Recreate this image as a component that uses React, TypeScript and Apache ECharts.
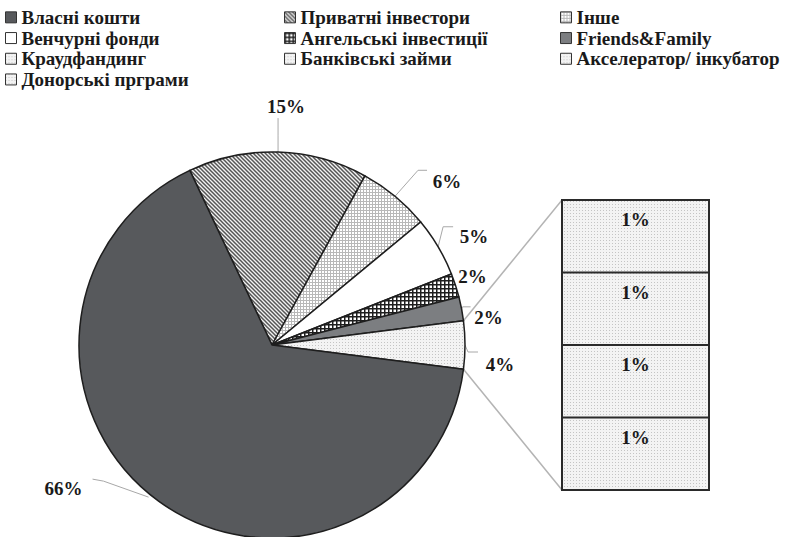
import React, { useEffect, useRef } from "react";
import * as echarts from "echarts";

// ---- data ----
// pie slices, clockwise from the start angle (the "other" slice is split into the bar)
const MAIN_NAMES = ["Приватні інвестори", "Інше", "Венчурні фонди", "Ангельські інвестиції", "Friends&Family"];
const MAIN_VALUES = [15, 6, 5, 2, 2];
const OTHER_NAME = "Інші джерела";
const OWN_NAME = "Власні кошти";
const OWN_VALUE = 66;
// bar (breakdown of the "other" slice)
const BAR_NAMES = ["Краудфандинг", "Банківські займи", "Акселератор/ інкубатор", "Донорські прграми"];
const BAR_VALUES = [1, 1, 1, 1];
// legend columns
const LEGEND_COL1 = ["Власні кошти", "Венчурні фонди", "Краудфандинг", "Донорські прграми"];
const LEGEND_COL2 = ["Приватні інвестори", "Ангельські інвестиції", "Банківські займи"];
const LEGEND_COL3 = ["Інше", "Friends&Family", "Акселератор/ інкубатор"];

// ---- layout / style ----
const CX = 272;
const CY = 345;
const R = 193;
const GRID = { left: 562, top: 200, width: 147, height: 290 };
const FONT = "Liberation Serif";
// label placement relative to the slice's outer mid point, same order as pie data
const LABEL_OFFSETS = [
  { label: [8, -46], line: [[0, 0], [0, -17], [0, -34]] },
  { label: [52, -15], line: [[0, 0], [23, -26], [32, -26]] },
  { label: [36, -10], line: [[0, 0], [5, -20], [15, -20]] },
  { label: [17, -9], line: [[0, 0], [0, 0], [0, 0]] },
  { label: [27, 9], line: [[0, 0], [1, -2], [9, -2]] },
  { label: [35, 19], line: [[0, 0], [3, 7], [13, 7]] },
  { label: [-95, -13], line: [[-10, -4], [-55, -20], [-66, -22]] },
];

function makePattern(size: number, bg: string, draw: (c: CanvasRenderingContext2D, s: number) => void) {
  const cv = document.createElement("canvas");
  cv.width = size;
  cv.height = size;
  const c = cv.getContext("2d") as CanvasRenderingContext2D;
  c.fillStyle = bg;
  c.fillRect(0, 0, size, size);
  draw(c, size);
  return { image: cv.toDataURL(), repeat: "repeat", imageWidth: size, imageHeight: size } as any;
}

export default function App() {
  const ref = useRef<HTMLDivElement>(null);

  useEffect(() => {
    document.body.style.margin = "0";
    const chart = echarts.init(ref.current as HTMLDivElement, null, { renderer: "svg" });

    const hatch = makePattern(4, "#f2f2f2", (c, s) => {
      c.strokeStyle = "#555555";
      c.lineWidth = 1.5;
      for (const k of [-s, 0, s]) {
        c.beginPath();
        c.moveTo(k - 1, -1);
        c.lineTo(k + s + 1, s + 1);
        c.stroke();
      }
    });
    const grid = makePattern(3, "#ffffff", (c) => {
      c.fillStyle = "#b8b8b8";
      c.fillRect(0, 0, 3, 1);
      c.fillRect(0, 0, 1, 3);
    });
    const checker = makePattern(4, "#ffffff", (c) => {
      c.fillStyle = "#1e1e1e";
      c.fillRect(0, 0, 4, 1.5);
      c.fillRect(0, 0, 1.5, 4);
    });
    const dots = makePattern(3, "#f3f3f3", (c) => {
      c.fillStyle = "#c4c4c4";
      c.fillRect(0, 0, 1, 1);
    });
    const MAIN_FILLS = [hatch, grid, "#ffffff", checker, "#7c7e81"];
    const OWN_FILL = "#57595c";

    const otherValue = BAR_VALUES.reduce((a, b) => a + b, 0);
    const mainSum = MAIN_VALUES.reduce((a, b) => a + b, 0);
    const total = mainSum + otherValue + OWN_VALUE;
    const startAngle = ((mainSum + otherValue / 2) / total) * 360;

    const pieValues = [...MAIN_VALUES, otherValue, OWN_VALUE];
    const midAngles: number[] = [];
    let cum = 0;
    for (const v of pieValues) {
      midAngles.push(startAngle - ((cum + v / 2) / total) * 360);
      cum += v;
    }

    const pieData = [
      ...MAIN_NAMES.map((n, i) => ({ name: n, value: MAIN_VALUES[i], itemStyle: { color: MAIN_FILLS[i] } })),
      { name: OTHER_NAME, value: otherValue, itemStyle: { color: dots } },
      { name: OWN_NAME, value: OWN_VALUE, itemStyle: { color: OWN_FILL } },
    ];

    const legendBase = {
      orient: "vertical",
      top: 7,
      padding: 0,
      itemWidth: 11,
      itemHeight: 11,
      itemGap: 0,
      icon: "rect",
      selectedMode: false,
      itemStyle: { borderColor: "#333", borderWidth: 1 },
      textStyle: { fontFamily: FONT, fontWeight: "bold", fontSize: 19, lineHeight: 20.7, color: "#1a1a1a" },
    };

    const labelStyle = { fontFamily: FONT, fontWeight: "bold", fontSize: 19, color: "#1a1a1a" };

    chart.setOption({
      animation: false,
      backgroundColor: "#ffffff",
      legend: [
        { ...legendBase, left: 5, data: LEGEND_COL1 },
        { ...legendBase, left: 284, data: LEGEND_COL2 },
        { ...legendBase, left: 560, data: LEGEND_COL3 },
      ],
      grid: { ...GRID },
      xAxis: { type: "category", data: ["other"], show: false },
      yAxis: { type: "value", min: 0, max: otherValue, show: false },
      series: [
        {
          type: "pie",
          center: [CX, CY],
          radius: R,
          clockwise: true,
          startAngle,
          avoidLabelOverlap: false,
          data: pieData,
          itemStyle: { borderColor: "#1e1e1e", borderWidth: 1.5 },
          label: { show: true, position: "outside", formatter: "{c}%", ...labelStyle },
          labelLine: { show: true, length: 10, length2: 10, lineStyle: { color: "#a8a8a8", width: 1 } },
          emphasis: { disabled: true },
          labelLayout: (params: any) => {
            const i = params.dataIndex;
            const a = (midAngles[i] * Math.PI) / 180;
            const px = CX + R * Math.cos(a);
            const py = CY - R * Math.sin(a);
            const o = LABEL_OFFSETS[i];
            return {
              x: px + o.label[0],
              y: py + o.label[1],
              align: "center",
              verticalAlign: "middle",
              labelLinePoints: o.line.map(([dx, dy]) => [px + dx, py + dy]),
            };
          },
        },
        ...BAR_NAMES.map((n, i) => ({
          type: "bar",
          name: n,
          stack: "other",
          data: [BAR_VALUES[i]],
          barWidth: "100%",
          itemStyle: { color: dots, borderColor: "#2a2a2a", borderWidth: 0 },
          label: { show: true, position: "insideTop", distance: 10, formatter: "{c}%", ...labelStyle },
          emphasis: { disabled: true },
        })),
      ],
    });

    // connector lines from the "other" slice edges to the bar corners, bar outline and dividers
    const halfOther = ((otherValue / 2) / total) * 2 * Math.PI;
    const toY = (v: number) => chart.convertToPixel({ yAxisIndex: 0 } as any, v) as number;
    const yTop = toY(otherValue);
    const yBottom = toY(0);
    const upX = CX + R * Math.cos(halfOther);
    const upY = CY - R * Math.sin(halfOther);
    const loX = CX + R * Math.cos(-halfOther);
    const loY = CY - R * Math.sin(-halfOther);
    const dividers: any[] = [];
    let acc = 0;
    for (let i = 0; i < BAR_VALUES.length - 1; i++) {
      acc += BAR_VALUES[i];
      const y = toY(acc);
      dividers.push({
        type: "line",
        z: 10,
        silent: true,
        shape: { x1: GRID.left, y1: y, x2: GRID.left + GRID.width, y2: y },
        style: { stroke: "#2a2a2a", lineWidth: 2 },
      });
    }
    chart.setOption({
      graphic: [
        { type: "line", z: -1, shape: { x1: upX, y1: upY, x2: GRID.left, y2: yTop }, style: { stroke: "#b4b4b4", lineWidth: 1.5 } },
        { type: "line", z: -1, shape: { x1: loX, y1: loY, x2: GRID.left, y2: yBottom }, style: { stroke: "#b4b4b4", lineWidth: 1.5 } },
        ...dividers,
        {
          type: "rect",
          z: 10,
          shape: { x: GRID.left, y: yTop, width: GRID.width, height: yBottom - yTop },
          style: { fill: "none", stroke: "#2a2a2a", lineWidth: 2 },
          silent: true,
        },
      ],
    });

    return () => chart.dispose();
  }, []);

  return <div ref={ref} style={{ width: 792, height: 537 }} />;
}
